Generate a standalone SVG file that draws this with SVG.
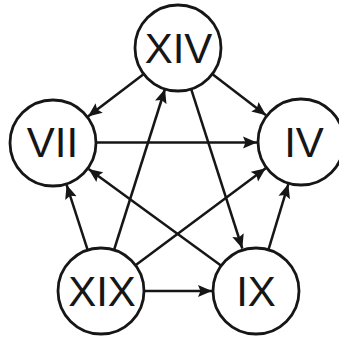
<svg xmlns="http://www.w3.org/2000/svg" width="339" height="337" viewBox="0 0 339 337">
<style>
.node circle{fill:#ffffff;stroke:#161616;stroke-width:2.8}
.node text{font-family:"Liberation Sans",Arial,sans-serif;font-size:42px;fill:#161616;text-anchor:middle}
.edges line{stroke:#161616;stroke-width:2.5;fill:none}
</style>
<defs>
<marker id="arr" markerUnits="userSpaceOnUse" markerWidth="15" markerHeight="13" refX="14" refY="6.5" orient="auto">
<path d="M0,0.5 L14,6.5 L0,12.5 L2.5,6.5 Z" fill="#161616"/>
</marker>
</defs>
<rect width="339" height="337" fill="#ffffff"/>
<g id="edges" class="edges">
<line x1="143.8" y1="74" x2="88" y2="116.4" marker-end="url(#arr)"/>
<line x1="212.2" y1="74.1" x2="266" y2="115.3" marker-end="url(#arr)"/>
<line x1="191.1" y1="88.9" x2="242.3" y2="248.5" marker-end="url(#arr)"/>
<line x1="97" y1="142.5" x2="257" y2="142.5" marker-end="url(#arr)"/>
<line x1="114" y1="250" x2="165" y2="89" marker-end="url(#arr)"/>
<line x1="87.7" y1="250.1" x2="66.6" y2="184.8" marker-end="url(#arr)"/>
<line x1="135.5" y1="265.3" x2="265.7" y2="168.3" marker-end="url(#arr)"/>
<line x1="144" y1="291" x2="212" y2="291" marker-end="url(#arr)"/>
<line x1="221.3" y1="265.7" x2="88.6" y2="168.9" marker-end="url(#arr)"/>
<line x1="268.4" y1="249.8" x2="288.3" y2="184.1" marker-end="url(#arr)"/>
</g>
<g id="XIV" class="node"><circle cx="178" cy="48" r="43"/><text x="178.5" y="63">XIV</text></g>
<g id="VII" class="node"><circle cx="53" cy="143" r="43"/><text x="52.5" y="157">VII</text></g>
<g id="IV" class="node"><circle cx="301" cy="142" r="43"/><text x="304" y="157">IV</text></g>
<g id="XIX" class="node"><circle cx="101" cy="291" r="43"/><text x="102" y="306">XIX</text></g>
<g id="IX" class="node"><circle cx="256" cy="291" r="43"/><text x="256" y="306">IX</text></g>
</svg>
